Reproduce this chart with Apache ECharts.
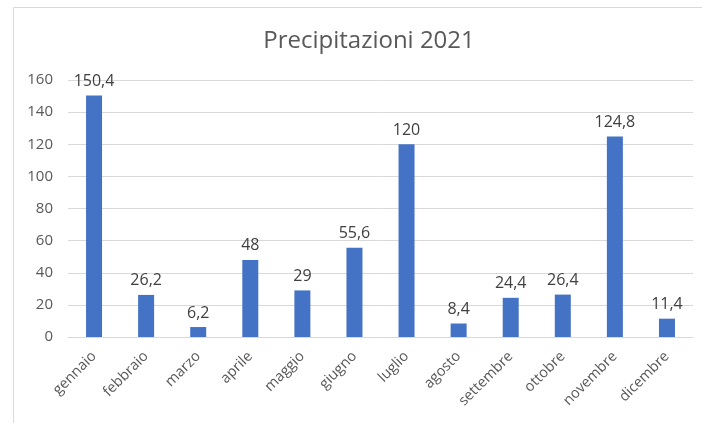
<!DOCTYPE html>
<html>
<head>
<meta charset="utf-8">
<script src="https://cdn.jsdelivr.net/npm/echarts@6/dist/echarts.min.js"></script>
<style>
  html, body { margin: 0; padding: 0; background: #fff; }
  #chart { width: 702px; height: 423px; }
</style>
</head>
<body>
<div id="chart"></div>
<script>
// Monthly rainfall, 2021
const months = ['gennaio', 'febbraio', 'marzo', 'aprile', 'maggio', 'giugno',
  'luglio', 'agosto', 'settembre', 'ottobre', 'novembre', 'dicembre'];
const rainfall = [150.4, 26.2, 6.2, 48, 29, 55.6, 120, 8.4, 24.4, 26.4, 124.8, 11.4];
const yTicks = [0, 20, 40, 60, 80, 100, 120, 140, 160];

const FONT = '"Open Sans", "Noto Sans", sans-serif';
const chart = echarts.init(document.getElementById('chart'));

chart.setOption({
  animation: false,
  backgroundColor: '#fff',
  graphic: [{
    type: 'rect',
    shape: { x: 13.5, y: 7.5, width: 720, height: 440 },
    style: { fill: 'none', stroke: '#d9d9d9', lineWidth: 1 },
    silent: true
  }],
  title: {
    text: 'Precipitazioni 2021',
    left: 364,
    textAlign: 'center',
    top: 24,
    textStyle: { fontFamily: FONT, fontSize: 24, fontWeight: 'normal', color: '#595959' }
  },
  grid: { left: 68, right: 9, top: 80, bottom: 86, containLabel: false },
  xAxis: {
    type: 'category',
    data: months,
    axisLine: { lineStyle: { color: '#d9d9d9', width: 1 } },
    axisTick: { show: false },
    axisLabel: {
      rotate: 45,
      interval: 0,
      margin: 17,
      color: '#595959',
      fontFamily: FONT,
      fontSize: 14.5
    }
  },
  yAxis: {
    type: 'value',
    min: yTicks[0],
    max: yTicks[yTicks.length - 1],
    interval: yTicks[1] - yTicks[0],
    axisLine: { show: false },
    axisTick: { show: false },
    splitLine: { lineStyle: { color: '#d9d9d9', width: 1 } },
    axisLabel: { color: '#595959', fontFamily: FONT, fontSize: 15, margin: 15 }
  },
  series: [{
    type: 'bar',
    data: rainfall,
    barWidth: 16,
    itemStyle: { color: '#4472c4' },
    label: {
      show: true,
      position: 'top',
      distance: 6,
      color: '#404040',
      fontFamily: FONT,
      fontSize: 16,
      formatter: p => String(p.value).replace('.', ',')
    }
  }]
});
</script>
</body>
</html>
